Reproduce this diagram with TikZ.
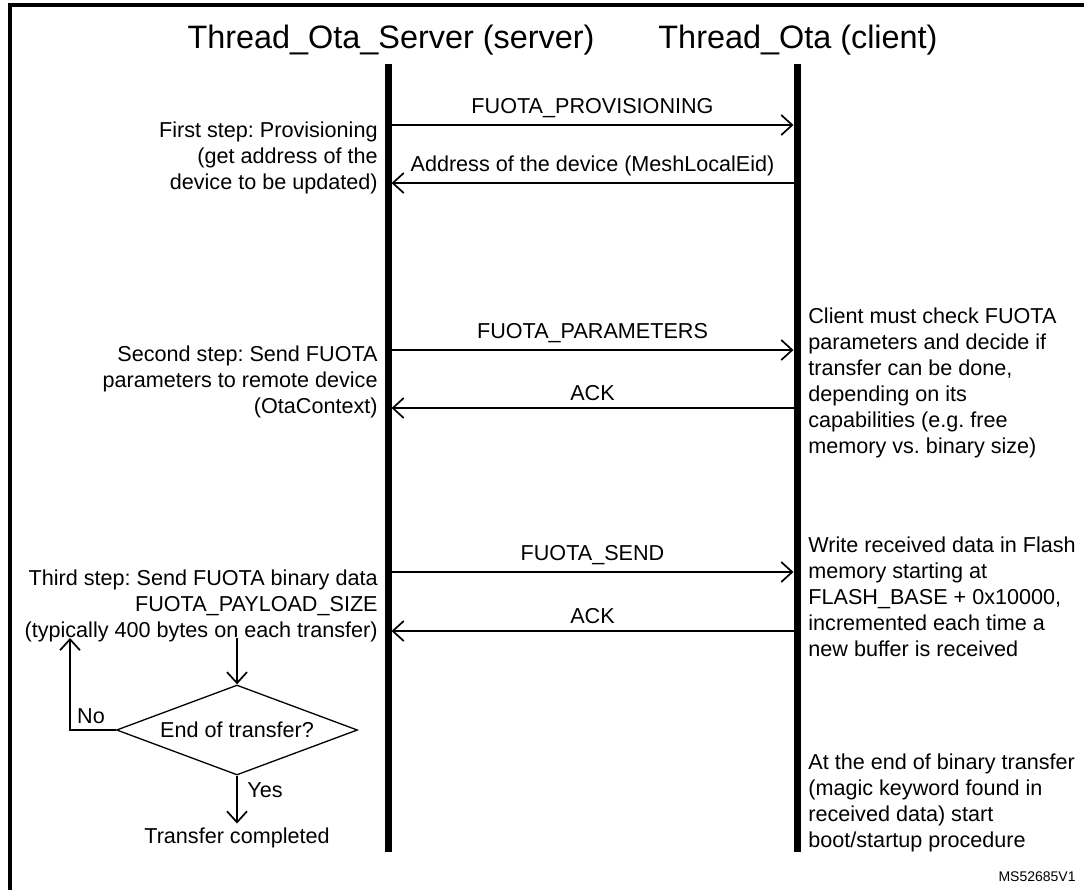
\documentclass[tikz,border=0pt]{standalone}
\usepackage{fontspec}
\setmainfont{Liberation Sans}
\usepackage{tikz}
\usetikzlibrary{positioning,arrows.meta,shapes.geometric}
\frenchspacing
\tikzset{
  frame/.style   ={line width=2pt},
  title/.style   ={font=\fontsize{16.2}{19}\selectfont, inner sep=0pt},
  lifeline/.style={line width=3.5pt},
  msg/.style     ={-{Straight Barb[length=5.5pt, width=10pt]}, line width=0.85pt,
                   shorten >=1.75pt},
  mlabel/.style  ={above=3pt, font=\fontsize{10.8}{13}\selectfont, inner sep=0pt},
  lnote/.style   ={anchor=east, align=right, font=\fontsize{10.8}{13}\selectfont,
                   inner sep=0pt},
  rnote/.style   ={anchor=west, align=left, font=\fontsize{10.8}{13}\selectfont,
                   inner sep=0pt},
  decide/.style  ={diamond, draw, line width=0.65pt, minimum width=120.5pt,
                   minimum height=45pt, inner sep=0pt, aspect=2.7,
                   font=\fontsize{10.8}{13}\selectfont},
  flow/.style    ={-{Straight Barb[length=5.5pt, width=10pt]}, line width=0.85pt},
  ftext/.style   ={font=\fontsize{10.8}{13}\selectfont, inner sep=2pt},
  refid/.style   ={anchor=east, font=\fontsize{7}{8}\selectfont, inner sep=0pt},
}

\begin{document}
\begin{tikzpicture}[x=0.5pt, y=-0.5pt]
  \useasboundingbox (0,0) rectangle (1084,890);
  \draw[frame] (10,890) -- (10,5) -- (1084,5);

  % lifelines
  \node[title] (srv) at (391,40) {Thread\_Ota\_Server (server)};
  \node[title] (cli) at (798,40) {Thread\_Ota (client)};
  \coordinate (srvtop) at (388,64);
  \coordinate (srvbot) at (388,852);
  \coordinate (clitop) at (797,64);
  \coordinate (clibot) at (797,852);
  \draw[lifeline] (srvtop) -- (srvbot);
  \draw[lifeline] (clitop) -- (clibot);

  % server -> client
  \foreach \n/\y/\txt in {1/125/FUOTA\_PROVISIONING, 3/350/FUOTA\_PARAMETERS,
                          5/572/FUOTA\_SEND} {
    \coordinate (s\n) at (388,\y);
    \coordinate (c\n) at (797,\y);
    \draw[msg] (s\n) -- node[mlabel] {\txt} (c\n);
  }
  % client -> server
  \foreach \n/\y/\txt in {2/183/Address of the device (MeshLocalEid), 4/408/ACK,
                          6/631/ACK} {
    \coordinate (s\n) at (388,\y);
    \coordinate (c\n) at (797,\y);
    \draw[msg] (c\n) -- node[mlabel] {\txt} (s\n);
  }

  % server side notes
  \node[lnote] (step1) at (378,158) {First step: Provisioning\\(get address of the\\device to be updated)};
  \node[lnote] (step2) at (378,382) {Second step: Send FUOTA\\parameters to remote device\\(OtaContext)};
  \node[lnote] (step3) at (378,606) {Third step: Send FUOTA binary data\\FUOTA\_PAYLOAD\_SIZE\\(typically 400 bytes on each transfer)};

  % client side notes
  \node[rnote] (check) at (808,383) {Client must check FUOTA\\parameters and decide if\\transfer can be done,\\depending on its\\capabilities (e.g. free\\memory vs. binary size)};
  \node[rnote] (write) at (808,597) {Write received data in Flash\\memory starting at\\FLASH\_BASE + 0x10000,\\incremented each time a\\new buffer is received};
  \node[rnote] (boot) at (808,803) {At the end of binary transfer\\(magic keyword found in\\received data) start\\boot/startup procedure};

  % transfer loop
  \coordinate (loopin) at (237,638);
  \coordinate (loopback) at (70,638);
  \node[decide] (endq) at (237,730) {End of transfer?};
  \draw[flow] (loopin) -- (endq.north);
  \draw[flow] (endq.west) -| (loopback);
  \node[ftext] (no) at (91,716) {No};
  \node[ftext] (yes) at (265,790) {Yes};
  \node[ftext] (done) at (237,838) {Transfer completed};
  \draw[flow] (endq.south) -- (done.north);

  \node[refid] (msid) at (1076,877) {MS52685V1};
\end{tikzpicture}
\end{document}
